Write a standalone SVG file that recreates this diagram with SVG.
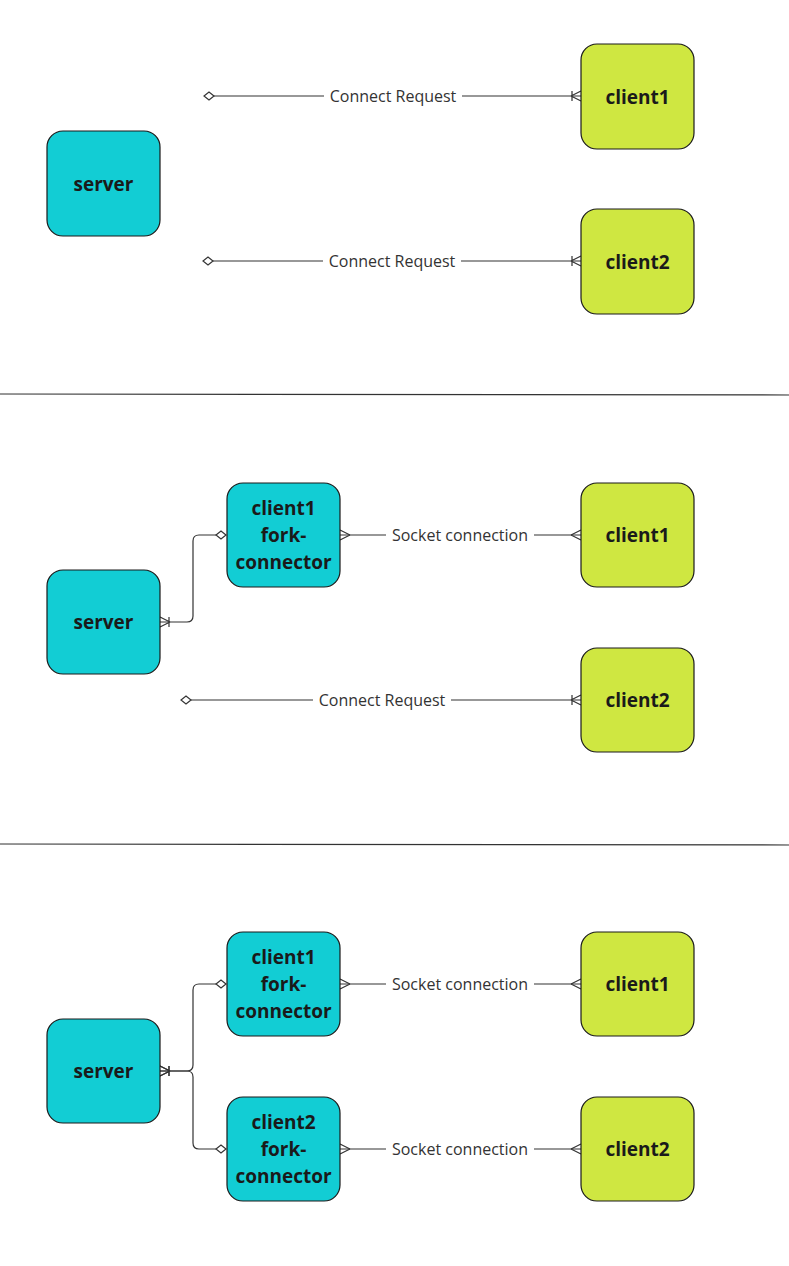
<svg xmlns="http://www.w3.org/2000/svg" width="789" height="1266" viewBox="0 0 789 1266">
<style>
.cyan{fill:#12CDD4;stroke:#1a1a1a;stroke-width:1.2}
.lime{fill:#CFE741;stroke:#1a1a1a;stroke-width:1.2}
.nt{font-family:"Open Sans","Noto Sans",sans-serif;font-weight:bold;font-size:19px;fill:#1a1a1a;text-anchor:middle;dominant-baseline:central}
.lbl{font-family:"Open Sans","Noto Sans",sans-serif;font-size:16px;fill:#333;text-anchor:middle;dominant-baseline:central}
.ln{fill:none;stroke:#333;stroke-width:1.2}
.bg{fill:#fff}
</style>
<defs>
<marker id="dia" markerWidth="14" markerHeight="10" refX="1" refY="5" orient="auto-start-reverse" markerUnits="userSpaceOnUse">
<path d="M1,5 L6,1 L11,5 L6,9 Z" fill="#fff" stroke="#333" stroke-width="1.2"/>
</marker>
<marker id="oneMany" markerWidth="14" markerHeight="12" refX="12" refY="6" orient="auto-start-reverse" markerUnits="userSpaceOnUse">
<path d="M2,6 L12,1 M2,6 L12,11 M3,1 L3,11" fill="none" stroke="#333" stroke-width="1.2"/>
</marker>
<marker id="many" markerWidth="14" markerHeight="12" refX="12" refY="6" orient="auto-start-reverse" markerUnits="userSpaceOnUse">
<path d="M2,6 L12,1 M2,6 L12,11" fill="none" stroke="#333" stroke-width="1.2"/>
</marker>
</defs>
<rect width="789" height="1266" fill="#fff"/>
<g id="separators">
<line x1="0" y1="394" x2="789" y2="395" stroke="#333" stroke-width="1.2"/>
<line x1="0" y1="844" x2="789" y2="845" stroke="#333" stroke-width="1.2"/>
</g>
<g id="connectors">
<path class="ln" d="M214,96 H581" marker-start="url(#dia)" marker-end="url(#oneMany)"/>
<rect class="bg" x="324" y="84" width="138" height="24"/>
<text class="lbl" x="393" y="96">Connect Request</text>
<path class="ln" d="M213,261 H581" marker-start="url(#dia)" marker-end="url(#oneMany)"/>
<rect class="bg" x="323" y="249" width="138" height="24"/>
<text class="lbl" x="392" y="261">Connect Request</text>
<path class="ln" d="M160,622 H187 Q193,622 193,616 V541 Q193,535 199,535 H216" marker-start="url(#oneMany)" marker-end="url(#dia)"/>
<path class="ln" d="M340,535 H581" marker-start="url(#many)" marker-end="url(#many)"/>
<rect class="bg" x="386" y="523" width="148" height="24"/>
<text class="lbl" x="460" y="535">Socket connection</text>
<path class="ln" d="M191,700 H581" marker-start="url(#dia)" marker-end="url(#oneMany)"/>
<rect class="bg" x="313" y="688" width="138" height="24"/>
<text class="lbl" x="382" y="700">Connect Request</text>
<path class="ln" d="M160,1071 H187 Q193,1071 193,1065 V990 Q193,984 199,984 H216" marker-start="url(#oneMany)" marker-end="url(#dia)"/>
<path class="ln" d="M160,1071 H187 Q193,1071 193,1077 V1143 Q193,1149 199,1149 H216" marker-start="url(#oneMany)" marker-end="url(#dia)"/>
<path class="ln" d="M340,984 H581" marker-start="url(#many)" marker-end="url(#many)"/>
<rect class="bg" x="386" y="972" width="148" height="24"/>
<text class="lbl" x="460" y="984">Socket connection</text>
<path class="ln" d="M340,1149 H581" marker-start="url(#many)" marker-end="url(#many)"/>
<rect class="bg" x="386" y="1137" width="148" height="24"/>
<text class="lbl" x="460" y="1149">Socket connection</text>
</g>
<g id="s1-server"><rect class="cyan" x="47" y="131" width="113" height="105" rx="16"/><text class="nt" x="103.5" y="184">server</text></g>
<g id="s1-client1"><rect class="lime" x="581" y="44" width="113" height="105" rx="16"/><text class="nt" x="637.5" y="97">client1</text></g>
<g id="s1-client2"><rect class="lime" x="581" y="209" width="113" height="105" rx="16"/><text class="nt" x="637.5" y="262">client2</text></g>

<g id="s2-server"><rect class="cyan" x="47" y="570" width="113" height="104" rx="16"/><text class="nt" x="103.5" y="622">server</text></g>
<g id="s2-fork1"><rect class="cyan" x="227" y="483" width="113" height="104" rx="16"/><text class="nt" x="283.5" y="508">client1</text><text class="nt" x="283.5" y="535">fork-</text><text class="nt" x="283.5" y="562">connector</text></g>
<g id="s2-client1"><rect class="lime" x="581" y="483" width="113" height="104" rx="16"/><text class="nt" x="637.5" y="535">client1</text></g>
<g id="s2-client2"><rect class="lime" x="581" y="648" width="113" height="104" rx="16"/><text class="nt" x="637.5" y="700">client2</text></g>

<g id="s3-server"><rect class="cyan" x="47" y="1019" width="113" height="104" rx="16"/><text class="nt" x="103.5" y="1071">server</text></g>
<g id="s3-fork1"><rect class="cyan" x="227" y="932" width="113" height="104" rx="16"/><text class="nt" x="283.5" y="957">client1</text><text class="nt" x="283.5" y="984">fork-</text><text class="nt" x="283.5" y="1011">connector</text></g>
<g id="s3-fork2"><rect class="cyan" x="227" y="1097" width="113" height="104" rx="16"/><text class="nt" x="283.5" y="1122">client2</text><text class="nt" x="283.5" y="1149">fork-</text><text class="nt" x="283.5" y="1176">connector</text></g>
<g id="s3-client1"><rect class="lime" x="581" y="932" width="113" height="104" rx="16"/><text class="nt" x="637.5" y="984">client1</text></g>
<g id="s3-client2"><rect class="lime" x="581" y="1097" width="113" height="104" rx="16"/><text class="nt" x="637.5" y="1149">client2</text></g>
</svg>
